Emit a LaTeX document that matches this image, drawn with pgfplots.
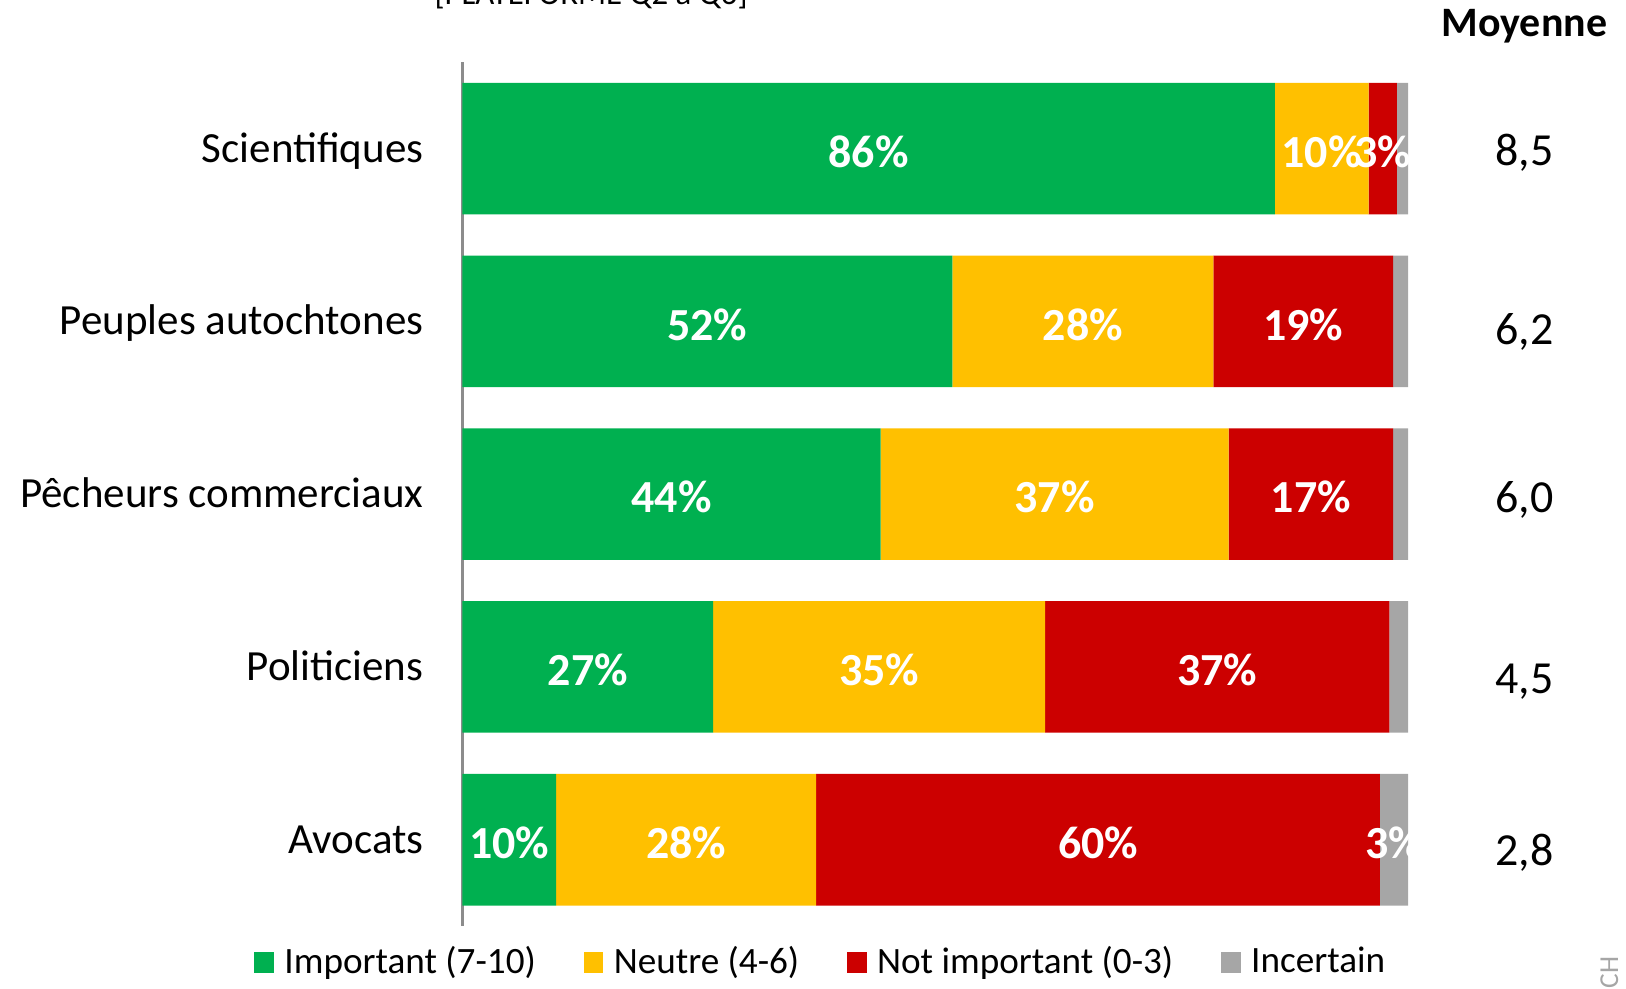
\documentclass[border=0pt]{standalone}
\usepackage{pgfplots}
\pgfplotsset{compat=1.18}
\usepackage{fontspec}
\setmainfont{Carlito}
\definecolor{cgreen}{HTML}{00B050}
\definecolor{cyellow}{HTML}{FFC000}
\definecolor{cred}{HTML}{CC0000}
\definecolor{cgray}{HTML}{A6A6A6}
\definecolor{axgray}{HTML}{8C8C8C}
\begin{document}
\begin{tikzpicture}
\useasboundingbox (0,0) rectangle (15.68,9.53);
\begin{scope}
\clip (0,0) rectangle (13.58,9.53) (14.0,0) rectangle (15.68,9.53);
\begin{axis}[
  at={(4.46cm,0.60cm)}, anchor=south west,
  scale only axis, width=9.12cm, height=8.33cm,
  xbar stacked, bar width=1.27cm,
  xmin=0, xmax=100, ymin=-0.5, ymax=4.5, y dir=reverse,
  axis y line*=left, axis x line=none,
  y axis line style={draw=axgray, line width=0.6pt, -},
  ytick={0,1,2,3,4},
  yticklabels={Scientifiques, Peuples autochtones, Pêcheurs commerciaux, Politiciens, Avocats},
  major tick length=0pt,
  yticklabel style={font=\fontsize{11.8}{14}\selectfont, anchor=base east, inner sep=0pt, xshift=-0.37cm, yshift=-0.13cm},
  point meta=explicit symbolic,
  nodes near coords,
  every node near coord/.append style={font=\bfseries\fontsize{12.6}{15}\selectfont, text=white, anchor=center, inner sep=0pt, yshift=-0.03cm},
  legend columns=4,
  legend style={draw=none, fill=none, at={(0.3816,-0.042)}, anchor=center, font=\fontsize{10.2}{12}\selectfont, column sep=0pt, /tikz/every even column/.append style={column sep=0.39cm}},
  legend image code/.code={\fill[#1] (0cm,-0.1cm) rectangle (0.19cm,0.1cm); \path (0.22cm,0cm);},
]
\addplot[fill=cgreen, draw=none] coordinates {(85.9,0)[86\%] (51.8,1)[52\%] (44.2,2)[44\%] (26.5,3)[27\%] (9.9,4)[10\%]};
\addplot[fill=cyellow, draw=none] coordinates {(9.9,0)[10\%] (27.6,1)[28\%] (36.8,2)[37\%] (35.1,3)[35\%] (27.5,4)[28\%]};
\addplot[fill=cred, draw=none] coordinates {(3.0,0)[3\%] (19.0,1)[19\%] (17.4,2)[17\%] (36.4,3)[37\%] (59.6,4)[60\%]};
\addplot[fill=cgray, draw=none] coordinates {(1.2,0)[] (1.6,1)[] (1.6,2)[] (2.0,3)[] (3.0,4)[3\%]};
\legend{Important (7-10), Neutre (4-6), Not important (0-3), Incertain}
\end{axis}
\end{scope}
\node[anchor=base, font=\fontsize{9}{11}\selectfont] at (5.70,9.49) {[PLATEFORME Q2 à Q6]};
\node[anchor=base, font=\bfseries\fontsize{11.5}{14}\selectfont] at (14.70,9.18) {Moyenne};
\foreach \v/\y in {8{,}5/7.93, 6{,}2/6.21, 6{,}0/4.59, 4{,}5/2.84, 2{,}8/1.18}
  \node[anchor=base, font=\fontsize{12.6}{15}\selectfont] at (14.70,\y) {\v};
\node[rotate=90, text=cgray, font=\fontsize{7.5}{9}\selectfont] at (15.52,0.15) {CH};
\end{tikzpicture}
\end{document}
